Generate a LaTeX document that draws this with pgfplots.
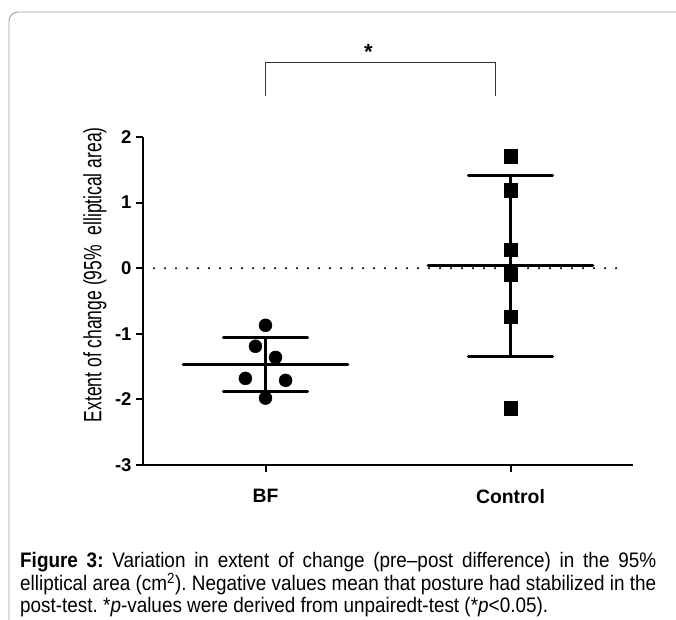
\documentclass[border=0pt]{standalone}
\usepackage{fontspec}
\setmainfont{Liberation Sans}
\newfontfamily\narrowsans{Liberation Sans}[FakeStretch=0.7, Ligatures=TeX]
\newfontfamily\capsans{Liberation Sans}[FakeStretch=0.9, Ligatures=TeX]
\usepackage{pgfplots}
\pgfplotsset{compat=1.18}

% BF and Control: individual values, mean and SD
\pgfplotstableread{
x      y
1.000 -0.87
0.959 -1.19
1.041 -1.36
0.918 -1.68
1.082 -1.71
1.000 -1.98
}\bfdata
\pgfplotstableread{
x      y
2.000  1.71
2.000  1.19
2.000  0.28
2.000 -0.09
2.000 -0.74
2.000 -2.13
}\ctrldata

\begin{document}
\frenchspacing
\begin{tikzpicture}
\useasboundingbox (0,0) rectangle (676pt,619pt);
\draw[gray!75, line width=0.9pt, rounded corners=9pt] (9pt,-2pt) -- (9pt,607pt) -- (680pt,607pt);
\begin{axis}[
  at={(143pt,154pt)}, anchor=south west,
  scale only axis, width=490pt, height=328pt,
  xmin=0.5, xmax=2.5, ymin=-3, ymax=2,
  axis x line=bottom, axis y line=left,
  axis line style={line width=2pt, -},
  xtick={1,2}, xticklabels={BF,Control},
  ytick={-3,-2,-1,0,1,2},
  tick style={line width=2pt, black},
  tick align=outside, major tick length=7pt,
  every tick label/.style={font=\fontsize{18.5}{20}\selectfont\bfseries},
  /pgf/number format/assume math mode=true,
  xticklabel style={yshift=-14pt, font=\fontsize{19.4}{21}\selectfont\bfseries},
  yticklabel style={xshift=-1pt},
  ylabel={Extent of change (95\%\ \ elliptical area)},
  ylabel style={at={(axis description cs:-0.098,0.58)}, anchor=center,
                font=\narrowsans\fontsize{25}{27}\selectfont},
  clip=false,
]
% zero reference line
\addplot[black, line width=2.4pt, line cap=round, dash pattern=on 0pt off 11pt]
  coordinates {(0.5,0) (2.47,0)};
% BF mean and SD
\addplot[black, line width=3pt, line cap=round] coordinates {(0.664,-1.465) (1.336,-1.465)};
\addplot[black, line width=3pt, line cap=round] coordinates {(0.828,-1.06) (1.172,-1.06)};
\addplot[black, line width=3pt, line cap=round] coordinates {(0.828,-1.88) (1.172,-1.88)};
\addplot[black, line width=3pt] coordinates {(1,-1.06) (1,-1.88)};
% Control mean and SD
\addplot[black, line width=3pt, line cap=round] coordinates {(1.664,0.035) (2.336,0.035)};
\addplot[black, line width=3pt, line cap=round] coordinates {(1.828,1.41) (2.172,1.41)};
\addplot[black, line width=3pt, line cap=round] coordinates {(1.828,-1.34) (2.172,-1.34)};
\addplot[black, line width=3pt] coordinates {(2,1.41) (2,-1.34)};
% points
\addplot[only marks, mark=*, mark size=6.5pt, fill=black] table {\bfdata};
\addplot[only marks, mark=square*, mark size=6.8pt, fill=black] table {\ctrldata};
% significance bracket
\draw[black!80, line width=1.2pt] (axis cs:1,2.625) -- (axis cs:1,3.13)
  -- (axis cs:1.94,3.13) -- (axis cs:1.94,2.625);
\node[font=\fontsize{22}{24}\selectfont\bfseries] at (axis cs:1.42,3.3) {*};
\end{axis}
\node[anchor=north west, inner sep=0pt, text width=636pt, align=justify,
      font=\capsans\fontsize{21}{21.5}\selectfont] at (20pt,67pt)
  {\textbf{Figure 3:} Variation in extent of change (pre--post difference) in the 95\%
   \mbox{elliptical} area (cm\textsuperscript{2}). Negative values mean that posture had stabilized in the
   \mbox{post-test}. *\textit{p}-values were derived from \mbox{unpairedt-test} (*\textit{p}<0.05).};
\end{tikzpicture}
\end{document}
